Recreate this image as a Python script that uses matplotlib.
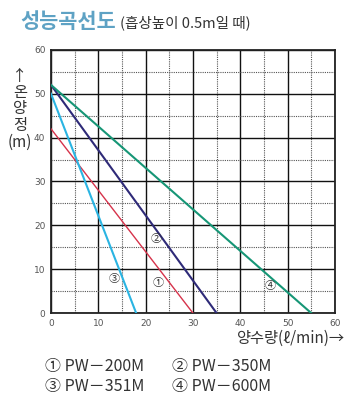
import matplotlib
matplotlib.use("Agg")
import matplotlib.pyplot as plt
from matplotlib.ticker import MultipleLocator

plt.rcParams['font.family'] = ['Noto Sans CJK KR', 'DejaVu Sans']

# pump curves: flow (l/min) vs total head (m)
models = ["PW－200M", "PW－350M", "PW－351M", "PW－600M"]
marks = ["①", "②", "③", "④"]
flow = [[0, 30], [0, 35], [0, 18], [0, 55]]
head = [[42, 0], [52, 0], [50, 0], [52, 0]]
colors = ["#d6334b", "#2e2a78", "#2ab4e2", "#169676"]
label_pos = [(22.7, 6.8), (22.3, 16.9), (13.3, 7.8), (46.3, 6.2)]

x_ticks = [0, 10, 20, 30, 40, 50, 60]
y_ticks = [0, 10, 20, 30, 40, 50, 60]
y_label = ["↑", "온", "양", "정", "(m)"]

fig = plt.figure(figsize=(3.54, 4.05), dpi=100)
ax = fig.add_axes([0.144, 0.227, 0.802, 0.650])

for f, h, c in zip(flow, head, colors):
    ax.plot(f, h, color=c, lw=1.5 if c != "#d6334b" else 1.0, zorder=3)

for m, (lx, ly) in zip(marks, label_pos):
    ax.text(lx, ly, m, fontsize=8, color="#333333", ha="center", va="center", zorder=4)

ax.set_xlim(0, 60)
ax.set_ylim(0, 60)
ax.set_xticks(x_ticks)
ax.set_yticks(y_ticks)
ax.xaxis.set_minor_locator(MultipleLocator(5))
ax.yaxis.set_minor_locator(MultipleLocator(5))
ax.grid(which="major", color="#111111", lw=1.0)
ax.grid(which="minor", color="#555555", lw=0.8, ls=(0, (1, 1)))
ax.tick_params(which="both", length=0, labelsize=6.5, labelcolor="#555555", pad=4)
for lab in ax.get_xticklabels() + ax.get_yticklabels():
    lab.set_family(["DejaVu Sans"])
for s in ax.spines.values():
    s.set_color("#222222")
    s.set_linewidth(1.3)

fig.text(20 / 354, 1 - 22 / 405, "성능곡선도", fontsize=15, fontweight="bold",
         color="#5ea2c4", va="center", ha="left")
fig.text(120 / 354, 1 - 23 / 405, "(흡상높이 0.5m일 때)", fontsize=10.5,
         color="#333333", va="center", ha="left")

for i, ch in enumerate(y_label):
    fig.text(20 / 354, 1 - (76 + i * 16.5) / 405, ch, fontsize=11, color="#333333",
             va="center", ha="center")
fig.text(345 / 354, 1 - 338 / 405, "양수량(ℓ/min)→", fontsize=11, color="#333333",
         va="center", ha="right")

for i, (m, name) in enumerate(zip(marks, models)):
    col, row = i % 2, i // 2
    fig.text((45 + col * 127) / 354, 1 - (366 + row * 21) / 405, m + " " + name,
             fontsize=11.5, color="#333333", va="center", ha="left")

fig.savefig("out.png", dpi=100)
